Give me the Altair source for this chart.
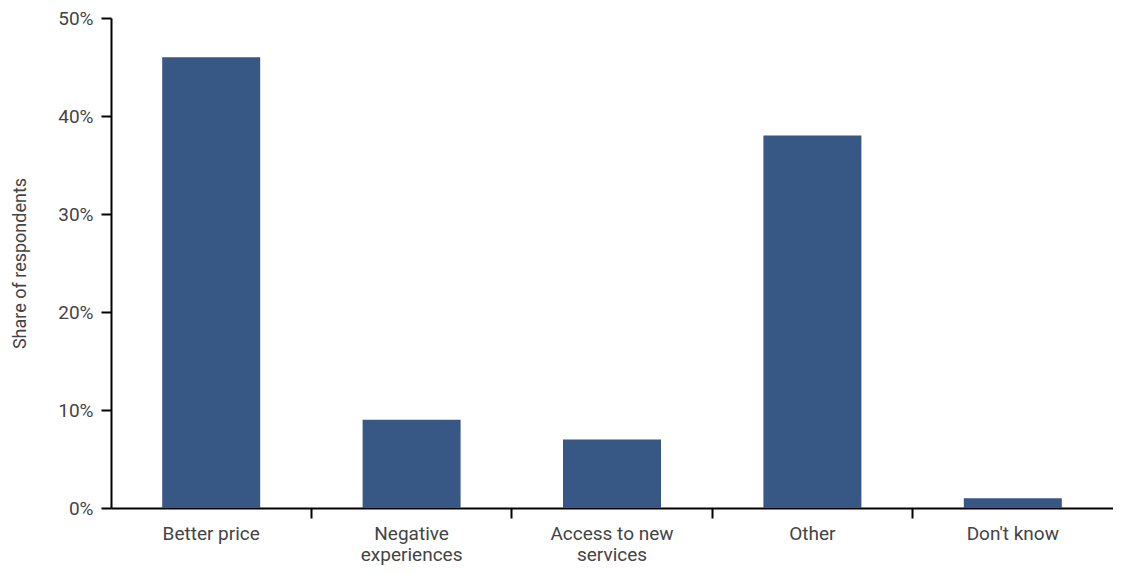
import altair as alt
import pandas as pd

categories = ["Better price", "Negative\nexperiences", "Access to new\nservices", "Other", "Don't know"]
shares = [0.46, 0.09, 0.07, 0.38, 0.01]

df = pd.DataFrame({"category": categories, "share": shares})

FONT = "Roboto, sans-serif"

chart = alt.Chart(df).mark_bar(
    color="#375785", width=alt.RelativeBandSize(0.489)
).encode(
    x=alt.X(
        "category:N",
        sort=categories,
        scale=alt.Scale(paddingInner=0, paddingOuter=0),
        axis=alt.Axis(
            title=None,
            labelAngle=0,
            labelExpr="split(datum.label, '\\n')",
            bandPosition=0,
            labelAlign="center",
            labelBaseline="top",
            labelFont=FONT,
            labelFontSize=19,
            labelColor="#444444",
            labelPadding=6,
            labelLineHeight=21,
            labelOverlap=False,
            labelBound=False,
            tickSize=10,
            tickWidth=2,
            tickColor="black",
            tickOpacity={"condition": {"test": "datum.value === 'Better price'", "value": 0}, "value": 1},
            domainColor="black",
            domainWidth=2,
            grid=False,
        ),
    ),
    y=alt.Y(
        "share:Q",
        scale=alt.Scale(domain=[0, 0.5]),
        axis=alt.Axis(
            title="Share of respondents",
            format=".0%",
            values=[0, 0.1, 0.2, 0.3, 0.4, 0.5],
            labelFont=FONT,
            labelFontSize=19,
            labelColor="#444444",
            labelPadding=8,
            titleFont=FONT,
            titleFontSize=18,
            titleFontWeight="normal",
            titleColor="#444444",
            titlePadding=28,
            tickSize=10,
            tickWidth=2,
            tickColor="black",
            domainColor="black",
            domainWidth=2,
            grid=False,
        ),
    ),
).properties(
    width=1002,
    height=490,
    autosize=alt.AutoSizeParams(type="none"),
    padding={"left": 103, "top": 10, "right": 0, "bottom": 57},
).configure_view(stroke=None)

chart.save("out.html", embed_options={"renderer": "svg", "actions": False})
